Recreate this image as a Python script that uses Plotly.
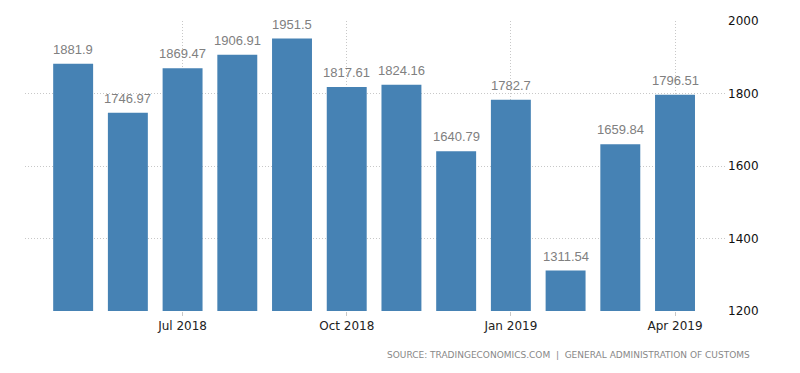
import plotly.graph_objects as go

months = ["May 2018", "Jun 2018", "Jul 2018", "Aug 2018", "Sep 2018", "Oct 2018",
          "Nov 2018", "Dec 2018", "Jan 2019", "Feb 2019", "Mar 2019", "Apr 2019"]
values = [1881.9, 1746.97, 1869.47, 1906.91, 1951.5, 1817.61,
          1824.16, 1640.79, 1782.7, 1311.54, 1659.84, 1796.51]
labels = ["1881.9", "1746.97", "1869.47", "1906.91", "1951.5", "1817.61",
          "1824.16", "1640.79", "1782.7", "1311.54", "1659.84", "1796.51"]
tick_months = ["Jul 2018", "Oct 2018", "Jan 2019", "Apr 2019"]
y_ticks = [1200, 1400, 1600, 1800, 2000]

x = list(range(len(months)))
tickpos = [months.index(m) for m in tick_months]

fig = go.Figure(go.Bar(
    x=x, y=values, width=0.73,
    marker=dict(color="#4682B4", line=dict(width=0)),
    hoverinfo="x+y",
))

value_annotations = [
    dict(x=xi, y=v, text=t, xref="x", yref="y", yanchor="bottom", yshift=5,
         showarrow=False,
         font=dict(family="Liberation Sans, Arial", size=13, color="#808080"))
    for xi, v, t in zip(x, values, labels)
]

# page body has an 8px margin: compensate so plot area sits at x 25..727, y 21..311
fig.update_layout(
    width=800, height=373,
    margin=dict(l=17, r=81, t=13, b=70),
    paper_bgcolor="white", plot_bgcolor="white",
    showlegend=False,
    xaxis=dict(
        range=[-0.88, 11.95], automargin=False,
        tickmode="array", tickvals=tickpos, ticktext=tick_months,
        showgrid=True, gridcolor="#c8c8c8", griddash="1px,2px", gridwidth=1,
        ticks="outside", ticklen=4, tickcolor="#c8c8c8",
        tickfont=dict(family="DejaVu Sans, Verdana", size=12, color="#222222"),
        zeroline=False, showline=False,
    ),
    yaxis=dict(
        range=[1200, 2000], side="right", automargin=False,
        tickmode="array", tickvals=y_ticks,
        showgrid=True, gridcolor="#c8c8c8", griddash="1px,2px", gridwidth=1,
        tickfont=dict(family="DejaVu Sans, Verdana", size=12, color="#111111"),
        zeroline=False, showline=False, ticks="",
    ),
    annotations=value_annotations + [dict(
        text="SOURCE: TRADINGECONOMICS.COM  |  GENERAL ADMINISTRATION OF CUSTOMS",
        xref="paper", yref="paper",
        x=(752 - 25) / (727 - 25), y=-(355 - 311) / 290,
        xanchor="right", yanchor="middle",
        showarrow=False,
        font=dict(family="DejaVu Sans, Verdana", size=9, color="#888888"),
    )],
)

fig.write_html("out.html")
